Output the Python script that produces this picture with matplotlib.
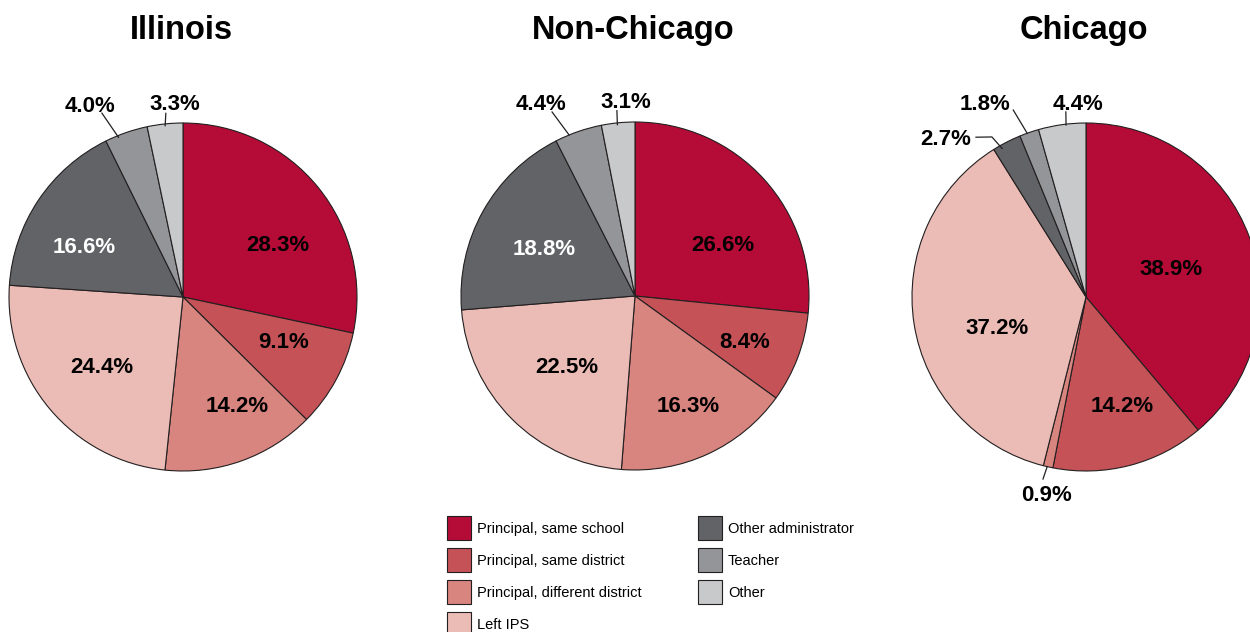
import numpy as np
import matplotlib
matplotlib.use("Agg")
import matplotlib.pyplot as plt
from matplotlib.patches import Rectangle

plt.rcParams['font.family'] = ['Liberation Sans', 'DejaVu Sans']

# ---------------- data ----------------
categories = ["Principal, same school", "Principal, same district",
              "Principal, different district", "Left IPS",
              "Other administrator", "Teacher", "Other"]
titles = ["Illinois", "Non-Chicago", "Chicago"]
illinois = [28.3, 9.1, 14.2, 24.4, 16.6, 4.0, 3.3]
non_chicago = [26.6, 8.4, 16.3, 22.5, 18.8, 4.4, 3.1]
chicago = [38.9, 14.2, 0.9, 37.2, 2.7, 1.8, 4.4]
series = [illinois, non_chicago, chicago]

# ---------------- style ----------------
colors = ["#B50B37", "#C45257", "#D8847F", "#EBBCB6", "#626366", "#939598", "#C8C9CB"]
text_colors = ["black", "black", "black", "black", "white", "black", "black"]
W, H = 1250, 632
centers = [(183, 297), (635, 296), (1086, 297)]  # pixel coords (y from top)
radius = 174
title_baseline = 39

# label placement: ('in', dAngle, rFrac) or ('out', dAngle, rFrac, [(dAngle, rFrac), ...])
label_specs = [
    [('in', -9.4, .63), ('in', 5.4, .63), ('in', 7.2, .69), ('in', 0, .61), ('in', 6.1, .64),
     ('out', 6.6, 1.23, [(2.9, .99), (4.7, 1.155)]),
     ('out', -3.6, 1.12, [(0, .99), (-0.6, 1.06)])],
    [('in', -11.2, .59), ('in', -1.0, .68), ('in', 1.3, .69), ('in', 0.4, .56), ('in', 0.9, .59),
     ('out', 6.7, 1.24, [(3.2, 1.0), (5.2, 1.16)]),
     ('out', -3.0, 1.13, [(0.3, .99), (0, 1.07)])],
    [('in', -0.6, .52), ('in', 4.0, .65),
     ('out', 1.3, 1.15, [(-0.3, 1.0), (-0.7, 1.075)]),
     ('in', 9.1, .54),
     ('out', 14.1, 1.22, [(2.3, .98), (3.3, 1.067), (7.4, 1.115)]),
     ('out', 8.3, 1.26, [(0.7, 1.0), (2.2, 1.153)]),
     ('out', -5.6, 1.12, [(-1.3, .995), (-1.7, 1.07)])],
]

fig = plt.figure(figsize=(W / 100, H / 100), dpi=100)
ax = fig.add_axes([0, 0, 1, 1])

def polar(c, ang, rf):
    a = np.deg2rad(ang)
    return c[0] + rf * radius * np.cos(a), c[1] + rf * radius * np.sin(a)

for vals, title, (cx, cy), specs in zip(series, titles, centers, label_specs):
    c = (cx, H - cy)
    wedges, _ = ax.pie(vals, colors=colors, startangle=90, counterclock=False,
                       center=c, radius=radius, frame=True,
                       wedgeprops=dict(edgecolor="#231f20", linewidth=0.8))
    ax.text(cx - 2, H - title_baseline, title, ha="center", va="baseline",
            fontsize=23.5, fontweight="bold")
    for i, (w, v, spec) in enumerate(zip(wedges, vals, specs)):
        mid = (w.theta1 + w.theta2) / 2.0
        txt = f"{v:.1f}%"
        if spec[0] == 'in':
            x, y = polar(c, mid + spec[1], spec[2])
            ax.text(x, y, txt, ha="center", va="center_baseline", fontsize=16,
                    fontweight="bold", color=text_colors[i])
        else:
            pts = [polar(c, mid + da, rf) for da, rf in spec[3]]
            ax.plot([p[0] for p in pts], [p[1] for p in pts], color="#231f20", lw=0.9)
            x, y = polar(c, mid + spec[1], spec[2])
            ax.text(x, y, txt, ha="center", va="center_baseline", fontsize=16,
                    fontweight="bold", color="black")

# legend (two columns, column-major)
leg_x = [447, 698]
leg_y0, leg_dy, box = 527.5, 32, 24
for i, (cat, col) in enumerate(zip(categories, colors)):
    colidx = 0 if i < 4 else 1
    row = i if i < 4 else i - 4
    x0 = leg_x[colidx]
    yc = H - (leg_y0 + row * leg_dy)
    ax.add_patch(Rectangle((x0, yc - box / 2), box, box, facecolor=col,
                           edgecolor="#231f20", linewidth=0.8, clip_on=False))
    ax.text(x0 + box + 6, yc, cat, ha="left", va="center_baseline", fontsize=10.5)

ax.set_xlim(0, W)
ax.set_ylim(0, H)
ax.set_aspect("equal")
ax.axis("off")
fig.savefig("out.png", dpi=100)
